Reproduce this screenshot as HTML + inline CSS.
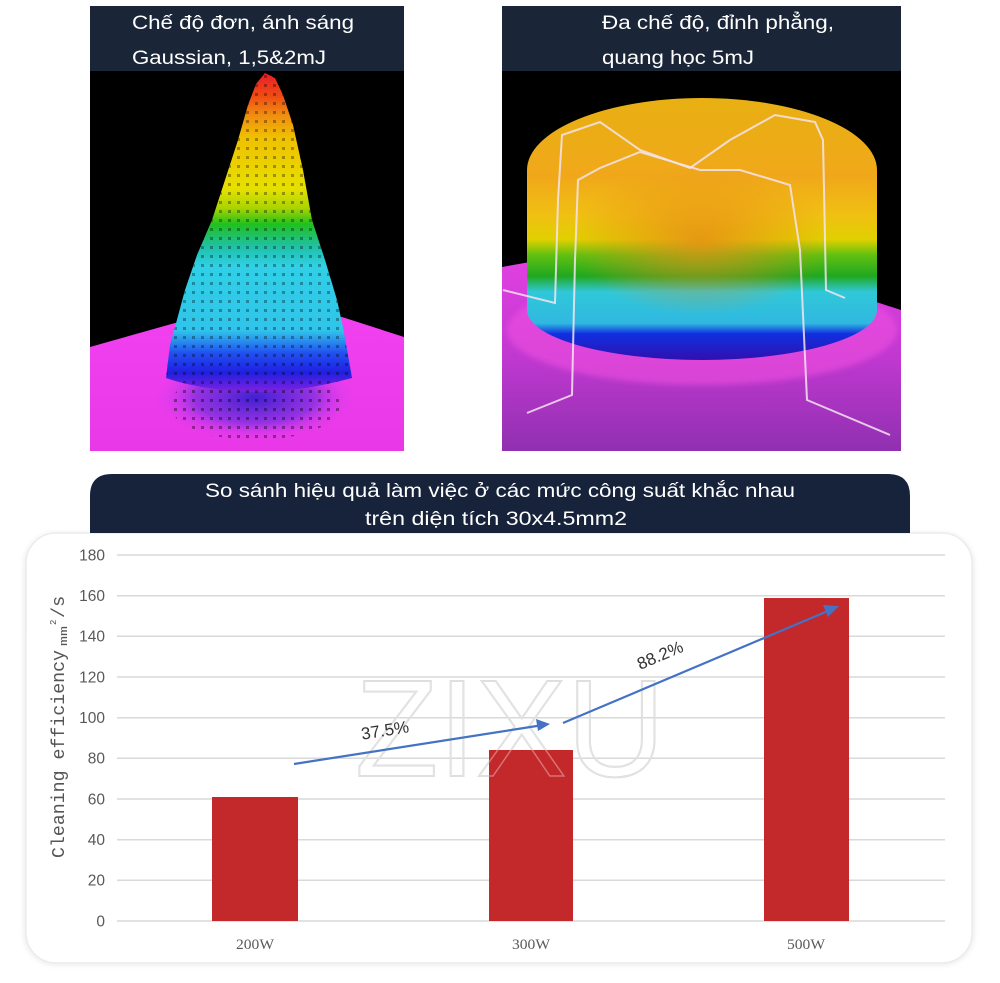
<!DOCTYPE html>
<html><head><meta charset="utf-8"><style>
html,body{margin:0;padding:0;background:#fff;}
svg{display:block;}
</style></head><body>
<svg width="1000" height="983" viewBox="0 0 1000 983" xmlns="http://www.w3.org/2000/svg">
<defs>
<linearGradient id="cone" gradientUnits="userSpaceOnUse" x1="0" y1="73" x2="0" y2="395">
<stop offset="0" stop-color="#e81e2a"/>
<stop offset="0.07" stop-color="#f04a14"/>
<stop offset="0.13" stop-color="#f08c10"/>
<stop offset="0.2" stop-color="#f0c000"/>
<stop offset="0.36" stop-color="#e6e000"/>
<stop offset="0.42" stop-color="#a8d400"/>
<stop offset="0.47" stop-color="#20c020"/>
<stop offset="0.54" stop-color="#20c0a8"/>
<stop offset="0.6" stop-color="#30d0e6"/>
<stop offset="0.8" stop-color="#30c4ea"/>
<stop offset="0.87" stop-color="#2050f0"/>
<stop offset="0.93" stop-color="#2020e0"/>
<stop offset="1" stop-color="#9020e0"/>
</linearGradient>
<linearGradient id="floorL" gradientUnits="userSpaceOnUse" x1="0" y1="320" x2="0" y2="451">
<stop offset="0" stop-color="#f040f0"/>
<stop offset="1" stop-color="#e838e8"/>
</linearGradient>
<radialGradient id="under" cx="0.5" cy="0.5" r="0.5">
<stop offset="0" stop-color="#4020d0"/>
<stop offset="0.6" stop-color="#8030e0" stop-opacity="0.8"/>
<stop offset="1" stop-color="#e040f0" stop-opacity="0"/>
</radialGradient>
<pattern id="dots" width="9" height="9" patternUnits="userSpaceOnUse">
<rect x="3" y="3" width="3" height="3" fill="#000" opacity="0.55"/>
</pattern>
<linearGradient id="cyl" gradientUnits="userSpaceOnUse" x1="0" y1="98" x2="0" y2="360">
<stop offset="0" stop-color="#e8b012"/>
<stop offset="0.3" stop-color="#f0a81a"/>
<stop offset="0.45" stop-color="#f0c012"/>
<stop offset="0.54" stop-color="#e0d000"/>
<stop offset="0.6" stop-color="#60c010"/>
<stop offset="0.68" stop-color="#20a820"/>
<stop offset="0.74" stop-color="#30c8d8"/>
<stop offset="0.86" stop-color="#30b8e0"/>
<stop offset="0.9" stop-color="#1030e0"/>
<stop offset="1" stop-color="#3010b0"/>
</linearGradient>
<linearGradient id="floorR" gradientUnits="userSpaceOnUse" x1="0" y1="265" x2="0" y2="451">
<stop offset="0" stop-color="#e040e0"/>
<stop offset="0.5" stop-color="#c038d0"/>
<stop offset="1" stop-color="#9030b0"/>
</linearGradient>
<radialGradient id="topc" cx="0.5" cy="0.5" r="0.5">
<stop offset="0" stop-color="#e88a18" stop-opacity="0.8"/>
<stop offset="1" stop-color="#e88a18" stop-opacity="0"/>
</radialGradient>
<filter id="sh" x="-5%" y="-5%" width="110%" height="110%">
<feGaussianBlur stdDeviation="3"/>
</filter>
</defs>

<!-- LEFT IMAGE -->
<rect x="90" y="6" width="314" height="445" fill="#000"/>
<polygon points="90,347 175,323 342,317 404,337 404,451 90,451" fill="url(#floorL)"/>
<ellipse cx="255" cy="398" rx="100" ry="42" fill="url(#under)"/>
<ellipse cx="255" cy="405" rx="85" ry="35" fill="url(#dots)" opacity="0.7"/>
<path d="M166,378 L170,345 L175,327 L185,290 L197,255 L212,220 L225,180 L238,140 L248,105 L256,84 L265,73 L275,78 L283,95 L293,125 L303,170 L312,220 L325,260 L337,300 L343,327 L348,355 L352,378 Q300,392 255,392 Q200,390 166,378 Z" fill="url(#cone)"/>
<path d="M166,378 L170,345 L175,327 L185,290 L197,255 L212,220 L225,180 L238,140 L248,105 L256,84 L265,73 L275,78 L283,95 L293,125 L303,170 L312,220 L325,260 L337,300 L343,327 L348,355 L352,378 Q300,392 255,392 Q200,390 166,378 Z" fill="url(#dots)" opacity="0.6"/>
<rect x="90" y="6" width="314" height="65" fill="#1a2538"/>
<text x="132" y="29" fill="#fff" font-family="Liberation Sans, sans-serif" font-size="19" textLength="222" lengthAdjust="spacingAndGlyphs">Chế độ đơn, ánh sáng</text>
<text x="132" y="64" fill="#fff" font-family="Liberation Sans, sans-serif" font-size="19" textLength="194" lengthAdjust="spacingAndGlyphs">Gaussian, 1,5&amp;2mJ</text>

<!-- RIGHT IMAGE -->
<rect x="502" y="6" width="399" height="445" fill="#000"/>
<polygon points="502,267 530,262 870,300 901,310 901,451 502,451" fill="url(#floorR)"/>
<ellipse cx="702" cy="330" rx="195" ry="55" fill="#f050e0" opacity="0.6" filter="url(#sh)"/>
<path d="M527,170 A175,72 0 0 1 877,170 L877,310 A175,50 0 0 1 527,310 Z" fill="url(#cyl)"/>
<ellipse cx="700" cy="240" rx="130" ry="75" fill="url(#topc)"/>
<polyline points="503,290 555,303 558,200 562,135 600,122 640,150 690,168 730,140 775,115 815,122 823,140 826,290 845,298" fill="none" stroke="#f4e4f0" stroke-width="2" opacity="0.85"/>
<polyline points="527,413 572,395 575,260 578,180 600,168 640,152 700,170 740,170 790,185 800,250 807,400 890,435" fill="none" stroke="#f4e4f0" stroke-width="2" opacity="0.85"/>
<rect x="502" y="6" width="399" height="65" fill="#1a2538"/>
<text x="602" y="29" fill="#fff" font-family="Liberation Sans, sans-serif" font-size="19" textLength="232" lengthAdjust="spacingAndGlyphs">Đa chế độ, đỉnh phẳng,</text>
<text x="602" y="64" fill="#fff" font-family="Liberation Sans, sans-serif" font-size="19" textLength="152" lengthAdjust="spacingAndGlyphs">quang học 5mJ</text>

<!-- CHART CARD -->
<rect x="24" y="533" width="950" height="432" rx="32" fill="#000" opacity="0.08" filter="url(#sh)"/>
<rect x="26" y="533" width="946" height="430" rx="30" fill="#fff" stroke="#ececec" stroke-width="1.5"/>

<!-- Banner -->
<path d="M90,533 L90,496 Q90,474 112,474 L888,474 Q910,474 910,496 L910,533 Z" fill="#17233a"/>
<text x="500" y="497" fill="#fff" text-anchor="middle" font-family="Liberation Sans, sans-serif" font-size="19" textLength="590" lengthAdjust="spacingAndGlyphs">So sánh hiệu quả làm việc ở các mức công suất khắc nhau</text>
<text x="496" y="525" fill="#fff" text-anchor="middle" font-family="Liberation Sans, sans-serif" font-size="19" textLength="262" lengthAdjust="spacingAndGlyphs">trên diện tích 30x4.5mm2</text>

<!-- gridlines -->
<g stroke="#d9d9d9" stroke-width="1.5">
<line x1="117" y1="555" x2="945" y2="555"/>
<line x1="117" y1="595.7" x2="945" y2="595.7"/>
<line x1="117" y1="636.3" x2="945" y2="636.3"/>
<line x1="117" y1="677" x2="945" y2="677"/>
<line x1="117" y1="717.7" x2="945" y2="717.7"/>
<line x1="117" y1="758.3" x2="945" y2="758.3"/>
<line x1="117" y1="799" x2="945" y2="799"/>
<line x1="117" y1="839.7" x2="945" y2="839.7"/>
<line x1="117" y1="880.3" x2="945" y2="880.3"/>
<line x1="117" y1="921" x2="945" y2="921"/>
</g>

<!-- y tick labels -->
<g fill="#595959" font-family="Liberation Sans, sans-serif" font-size="15.5" text-anchor="end">
<text x="105" y="560.5">180</text>
<text x="105" y="601">160</text>
<text x="105" y="641.5">140</text>
<text x="105" y="682.5">120</text>
<text x="105" y="723">100</text>
<text x="105" y="763.5">80</text>
<text x="105" y="804.5">60</text>
<text x="105" y="845">40</text>
<text x="105" y="885.5">20</text>
<text x="105" y="926.5">0</text>
</g>

<!-- y title -->
<g transform="translate(64,858) rotate(-90)" fill="#555" font-family="Liberation Mono, monospace">
<text x="0" y="0" font-size="18.5" textLength="208" lengthAdjust="spacingAndGlyphs">Cleaning efficiency</text>
<text x="212" y="3" font-size="11" textLength="20" lengthAdjust="spacingAndGlyphs">mm</text>
<text x="233" y="-8" font-size="9">2</text>
<text x="240" y="0" font-size="18.5">/s</text>
</g>

<!-- watermark -->
<text x="355" y="776" fill="none" stroke="#d4d4d4" stroke-width="2" font-family="Liberation Sans, sans-serif" font-size="138" textLength="310" lengthAdjust="spacingAndGlyphs">ZIXU</text>

<!-- bars -->
<rect x="212" y="797" width="86" height="124" fill="#c3282b"/>
<rect x="489" y="750" width="84" height="171" fill="#c3282b"/>
<rect x="764" y="598" width="85" height="323" fill="#c3282b"/>

<!-- watermark over bars, faint -->
<text x="355" y="776" fill="none" stroke="#ffffff" stroke-width="1.5" opacity="0.35" font-family="Liberation Sans, sans-serif" font-size="138" textLength="310" lengthAdjust="spacingAndGlyphs">ZIXU</text>

<!-- x labels -->
<g fill="#595959" font-family="Liberation Serif, serif" font-size="14.5" text-anchor="middle">
<text x="255" y="949" textLength="38" lengthAdjust="spacingAndGlyphs">200W</text>
<text x="531" y="949" textLength="38" lengthAdjust="spacingAndGlyphs">300W</text>
<text x="806" y="949" textLength="38" lengthAdjust="spacingAndGlyphs">500W</text>
</g>

<!-- arrows -->
<g stroke="#4472c4" stroke-width="2.2" fill="none">
<line x1="294" y1="764" x2="540" y2="725.5"/>
<line x1="563" y1="723" x2="828" y2="611"/>
</g>
<polygon points="550,724 536,719 538,731" fill="#4472c4"/>
<polygon points="839,606 823,605 828,617" fill="#4472c4"/>

<text x="385" y="736" fill="#333" text-anchor="middle" font-family="Liberation Sans, sans-serif" font-size="17" transform="rotate(-9 385 730)">37.5%</text>
<text x="660" y="661" fill="#333" text-anchor="middle" font-family="Liberation Sans, sans-serif" font-size="17" transform="rotate(-23 660 655)">88.2%</text>
</svg>
</body></html>
